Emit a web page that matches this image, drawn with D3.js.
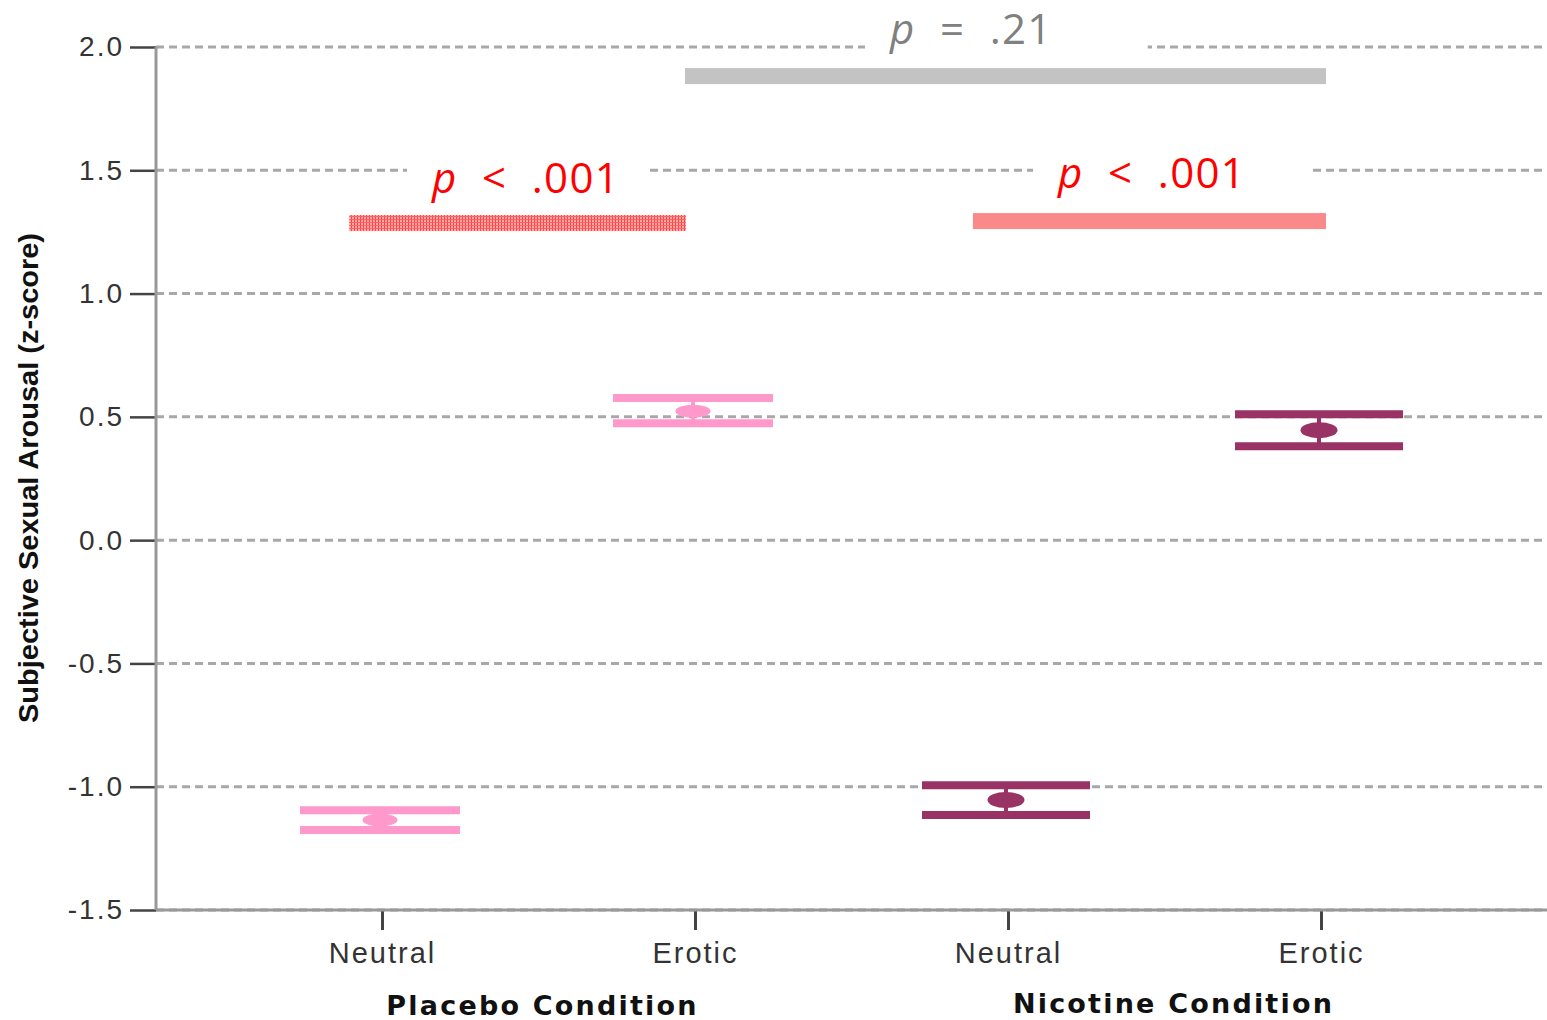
<!DOCTYPE html>
<html>
<head>
<meta charset="utf-8">
<script src="https://cdn.jsdelivr.net/npm/d3@7"></script>
<style>
  body { margin: 0; background: #fff; }
  svg { display: block; }
</style>
</head>
<body>
<svg id="chart" width="1547" height="1020"></svg>
<script>
// data
const categories = ['Placebo Neutral', 'Placebo Erotic', 'Nicotine Neutral', 'Nicotine Erotic'];
const tickNames = ['Neutral', 'Erotic', 'Neutral', 'Erotic'];
const groups = ['Placebo Condition', 'Nicotine Condition'];
const means = [-1.135, 0.523, -1.054, 0.446];
const upper = [-1.095, 0.576, -0.994, 0.511];
const lower = [-1.176, 0.474, -1.115, 0.381];
const yTicks = [2.0, 1.5, 1.0, 0.5, 0.0, -0.5, -1.0, -1.5];

// significance bars: start / end in category index units, height in z-score
const sigLabels = [['p', ' = .21'], ['p', ' < .001'], ['p', ' < .001']];
const sigFrom = [0.968, -0.105, 1.888];
const sigTo = [3.016, 0.971, 3.016];
const sigY = [1.882, 1.286, 1.294];
const labelX = [1.623, 0.16, 2.16];
const labelY = [2.011, 1.407, 1.427];

const colors = ['#ff99cc', '#ff99cc', '#993366', '#993366'];
const capWidth = [160, 160, 168, 168];
const sigFill = ['#c3c3c3', 'url(#hatch)', '#fa8a8a'];
const labelColor = ['#808080', '#ff0000', '#ff0000'];
const boxPadR = [95, 25, 63];
const groupShift = [4, 9];

const svg = d3.select('#chart');
const plotL = 156, plotR = 1547, plotT = 47, plotB = 910;

const y = d3.scaleLinear().domain([-1.5, 2.0]).range([plotB, plotT]);
const x = d3.scalePoint().domain(categories).range([plotL, plotR]).padding(0.722);
const xi = d3.scaleLinear().domain([0, 3]).range([x(categories[0]), x(categories[3])]);

// hatch pattern for the placebo bar
const defs = svg.append('defs');
const pat = defs.append('pattern')
    .attr('id', 'hatch')
    .attr('width', 3).attr('height', 3)
    .attr('patternUnits', 'userSpaceOnUse');
pat.append('rect').attr('width', 3).attr('height', 3).attr('fill', '#ffaaaa');
pat.append('rect').attr('width', 1).attr('height', 3).attr('fill', '#ff4040');
pat.append('rect').attr('width', 3).attr('height', 1).attr('fill', '#ff6060');

// gridlines
svg.append('g')
    .selectAll('line')
    .data(yTicks)
    .join('line')
    .attr('x1', plotL).attr('x2', plotR)
    .attr('y1', d => y(d)).attr('y2', d => y(d))
    .style('stroke', '#a8a8a8')
    .style('stroke-width', 3)
    .style('stroke-dasharray', '8,5');

// y axis
const yAxis = svg.append('g')
    .attr('transform', `translate(${plotL},0)`)
    .call(d3.axisLeft(y).tickValues(yTicks).tickSize(26).tickPadding(6).tickFormat(d => d.toFixed(1)));
yAxis.select('.domain').remove();
yAxis.selectAll('.tick line').style('stroke', '#444').style('stroke-width', 2.5);
yAxis.selectAll('.tick text')
    .style('font-family', 'Liberation Sans, Arial, sans-serif')
    .style('font-size', '28px')
    .style('letter-spacing', '2px')
    .style('fill', '#333');
svg.append('line')
    .attr('x1', plotL).attr('x2', plotL)
    .attr('y1', plotT).attr('y2', plotB)
    .style('stroke', '#999').style('stroke-width', 3);

// x axis
const xAxis = svg.append('g')
    .attr('transform', `translate(0,${plotB})`)
    .call(d3.axisBottom(x).tickSize(20).tickPadding(12).tickFormat((d, i) => tickNames[i]));
xAxis.select('.domain').remove();
xAxis.selectAll('.tick line').style('stroke', '#444').style('stroke-width', 3);
xAxis.selectAll('.tick text')
    .style('font-family', 'Liberation Sans, Arial, sans-serif')
    .style('font-size', '29px')
    .style('letter-spacing', '2px')
    .style('fill', '#333');
svg.append('line')
    .attr('x1', plotL).attr('x2', plotR)
    .attr('y1', plotB).attr('y2', plotB)
    .style('stroke', '#999').style('stroke-width', 3);

// group labels
svg.append('g')
    .selectAll('text')
    .data(groups)
    .join('text')
    .attr('x', (d, i) => (x(categories[i * 2]) + x(categories[i * 2 + 1])) / 2 + groupShift[i])
    .attr('y', (d, i) => 1015 - i * 2)
    .attr('text-anchor', 'middle')
    .text(d => d)
    .style('font-family', 'DejaVu Sans, Verdana, sans-serif')
    .style('font-weight', 'bold')
    .style('font-size', '27px')
    .style('letter-spacing', '2.2px')
    .style('fill', '#111');

// y axis title
svg.append('text')
    .attr('transform', `translate(38,478) rotate(-90)`)
    .attr('text-anchor', 'middle')
    .text('Subjective Sexual Arousal (z-score)')
    .attr('textLength', 490)
    .attr('lengthAdjust', 'spacingAndGlyphs')
    .style('font-family', 'Liberation Sans, Arial, sans-serif')
    .style('font-weight', 'bold')
    .style('font-size', '27px')
    .style('fill', '#111');

// error bars
const marks = svg.append('g');
categories.forEach((c, i) => {
    const cx = x(c) - 2;
    const g = marks.append('g');
    g.append('line')
        .attr('x1', cx).attr('x2', cx)
        .attr('y1', y(upper[i])).attr('y2', y(lower[i]))
        .style('stroke', colors[i]).style('stroke-width', 4);
    [upper[i], lower[i]].forEach(v => {
        g.append('line')
            .attr('x1', cx - capWidth[i] / 2).attr('x2', cx + capWidth[i] / 2)
            .attr('y1', y(v)).attr('y2', y(v))
            .style('stroke', colors[i]).style('stroke-width', 8);
    });
    g.append('ellipse')
        .attr('cx', cx).attr('cy', y(means[i]))
        .attr('rx', i < 2 ? 17.5 : 18.5).attr('ry', i < 2 ? 6.5 : 8)
        .style('fill', colors[i]);
});

// significance labels with white boxes
const sig = svg.append('g');
sigLabels.forEach((lab, i) => {
    const t = sig.append('text')
        .attr('x', xi(labelX[i]))
        .attr('y', y(labelY[i]))
        .style('font-family', 'Open Sans, sans-serif')
        .style('font-size', '42px')
        .style('letter-spacing', '1.3px')
        .style('fill', labelColor[i])
        .style('white-space', 'pre');
    t.append('tspan').text(lab[0]).style('font-style', 'italic');
    t.append('tspan').text(lab[1].replace(/ /g, '\u00a0\u00a0'));
    const bb = t.node().getBBox();
    sig.insert('rect', 'text')
        .attr('x', bb.x - 24)
        .attr('y', bb.y - 4)
        .attr('width', bb.width + 24 + boxPadR[i])
        .attr('height', bb.height + 8)
        .style('fill', '#fff');
});

// significance bars
svg.append('g')
    .selectAll('rect')
    .data(sigY)
    .join('rect')
    .attr('x', (d, i) => xi(sigFrom[i]))
    .attr('width', (d, i) => xi(sigTo[i]) - xi(sigFrom[i]))
    .attr('y', d => y(d) - 8)
    .attr('height', 16)
    .style('fill', (d, i) => sigFill[i]);
</script>
</body>
</html>
